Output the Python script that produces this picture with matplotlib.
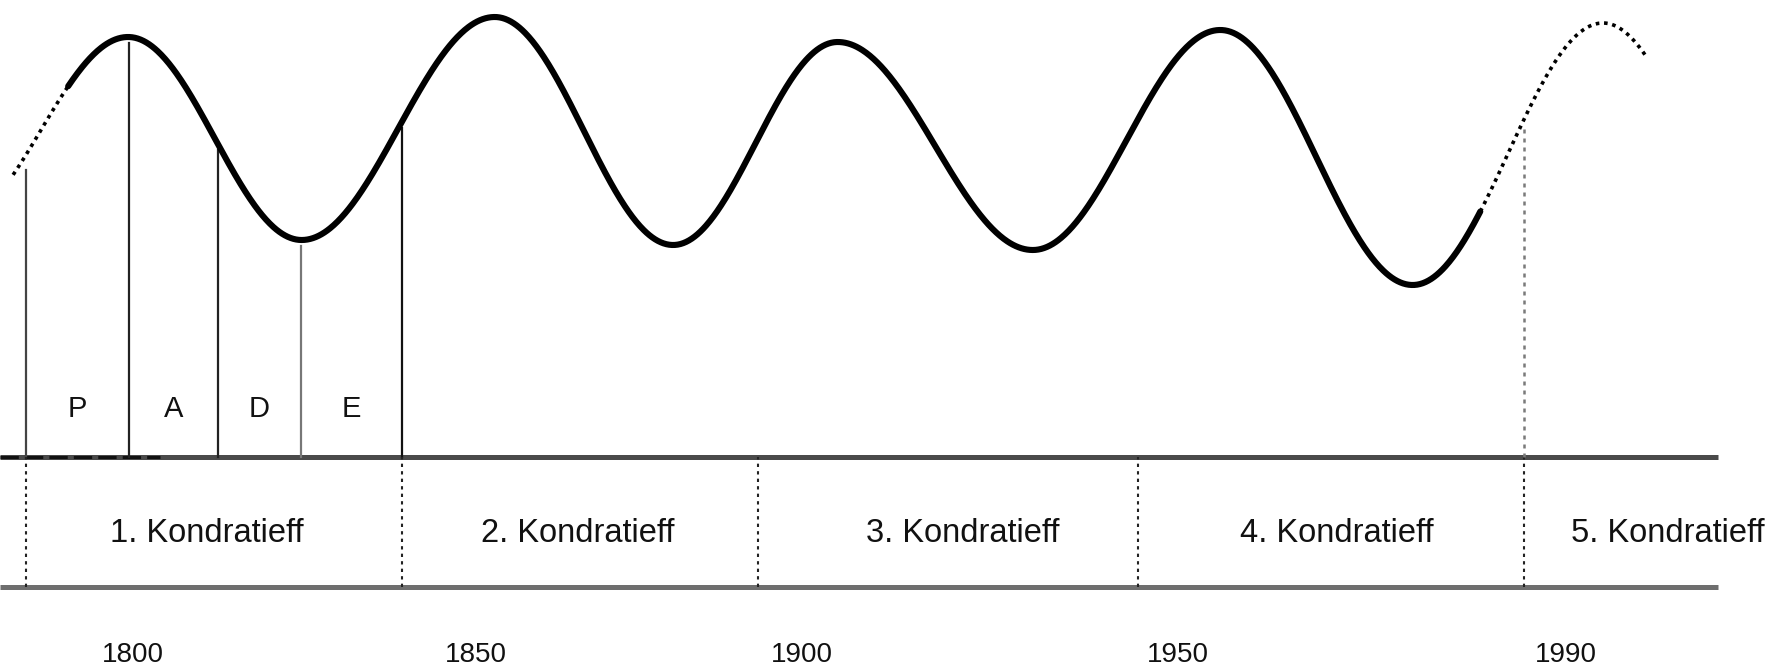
import numpy as np
import matplotlib
matplotlib.use("Agg")
import matplotlib.pyplot as plt

# ---- data (x in years, y in arbitrary wave units; band top = 0) ----
# extrema of the long wave (virtual ends only shape the partial end segments)
wave_years = [1774.3, 1799.3, 1824.2, 1851.9, 1877.5, 1901.1, 1929.1, 1956.0, 1983.6, 2010.9, 2036.0]
wave_vals = [234, 420, 217, 440, 212, 415, 207, 427, 172, 434, 200]
dotted_start, solid_start = 1782.8, 1790.7
solid_end, dotted_end = 1993.3, 2017.2

phase_lines = [1784.6, 1799.4, 1812.2, 1824.1, 1838.6]   # boundaries of P, A, D, E
phase_labels = ["P", "A", "D", "E"]
kondratieff_bounds = [1784.6, 1838.6, 1889.7, 1944.2, 1999.6]
kondratieff_labels = ["1. Kondratieff", "2. Kondratieff", "3. Kondratieff",
                      "4. Kondratieff", "5. Kondratieff"]
kondratieff_label_x = [1810.6, 1863.8, 1919.0, 1972.7, 2020.2]
tick_pos = [1800, 1849.2, 1896.0, 1949.9, 2005.6]
tick_labels = ["1800", "1850", "1900", "1950", "1990"]


def wave(x):
    """Half-cosine segments between consecutive extrema."""
    xs = np.asarray(wave_years)
    ys = np.asarray(wave_vals, dtype=float)
    x = np.asarray(x, dtype=float)
    i = np.clip(np.searchsorted(xs, x) - 1, 0, len(xs) - 2)
    t = (x - xs[i]) / (xs[i + 1] - xs[i])
    s = (1 - np.cos(np.pi * t)) / 2
    return ys[i] + (ys[i + 1] - ys[i]) * s


fig = plt.figure(figsize=(17.77, 6.68), dpi=100)
ax = fig.add_axes([0, 0, 1, 1])
x_left = 1780.92
ax.set_xlim(x_left, 2035.87)
ax.set_ylim(-211, 457)
ax.axis("off")

font = ["Liberation Sans Narrow", "Liberation Sans", "DejaVu Sans"]
band_top, band_bot = 0, -130
x_right = 2027.4
ax.plot([x_left, x_right], [band_top, band_top], color="#4a4a4a", lw=3.6,
        solid_capstyle="butt", zorder=2)
ax.plot([x_left, 1803.9], [band_top, band_top], color="#111111", lw=2.2,
        linestyle=(0, (6, 2)), zorder=2)
ax.plot([x_left, x_right], [band_bot, band_bot], color="#6e6e6e", lw=3.6,
        solid_capstyle="butt", zorder=2)

# wave
xd1 = np.linspace(dotted_start, solid_start, 60)
xs_ = np.linspace(solid_start, solid_end, 1500)
xd2 = np.linspace(solid_end, dotted_end, 120)
ax.plot(xs_, wave(xs_), color="black", lw=4.4, solid_capstyle="round", zorder=4)
ax.plot(xd1, wave(xd1), color="black", lw=2.6, linestyle=(0, (1.0, 1.3)), zorder=4)
ax.plot(xd2, wave(xd2), color="black", lw=2.6, linestyle=(0, (1.0, 1.3)), zorder=4)

# phase lines (P, A, D, E)
phase_colors = ["#444444", "#222222", "#222222", "#777777", "#111111"]
for k, (xv, c) in enumerate(zip(phase_lines, phase_colors)):
    top = 287 if k == 0 else wave([xv])[0] - 6
    ax.plot([xv, xv], [band_top, top], color=c, lw=1.6, zorder=3)
for k, lab in enumerate(phase_labels):
    xc = (phase_lines[k] + phase_lines[k + 1]) / 2
    ax.text(xc, 40, lab, ha="center", va="baseline", fontsize=21,
            family=font, color="#111111")

# Kondratieff band dividers and labels
for xv in kondratieff_bounds:
    ax.plot([xv, xv], [band_bot, band_top], color="#222222", lw=1.5,
            linestyle=(0, (1.6, 2.0)), zorder=3)
xlast = kondratieff_bounds[-1]
ax.plot([xlast, xlast], [band_top, wave([xlast])[0] - 6],
        color="#7a7a7a", lw=1.8, linestyle=(0, (1.6, 2.0)), zorder=3)
for xc, lab in zip(kondratieff_label_x, kondratieff_labels):
    ax.text(xc, -85, lab, ha="center", va="baseline", fontsize=23.5,
            family=font, color="#111111")

# year labels
for xp, lab in zip(tick_pos, tick_labels):
    ax.text(xp, -205, lab, ha="center", va="baseline", fontsize=20,
            family=font, color="#111111")

fig.savefig("out.png", dpi=100, facecolor="white")
